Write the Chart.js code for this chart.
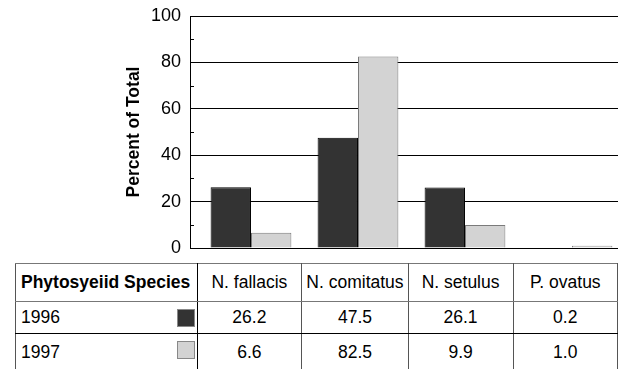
<!DOCTYPE html>
<html>
<head>
<meta charset="utf-8">
<script src="https://cdn.jsdelivr.net/npm/chart.js@4/dist/chart.umd.min.js"></script>
<style>
  html, body { margin: 0; padding: 0; background: #fff; }
  #wrap { position: relative; width: 618px; height: 369px; overflow: hidden; font-family: "Liberation Sans", Arial, sans-serif; }
  #chart { position: absolute; left: 0; top: 0; }
  table { position: absolute; left: 15px; top: 263px; border-collapse: collapse; table-layout: fixed; font-size: 17.5px; color: #000; }
  td { border: 1px solid #555; padding: 0; text-align: center; white-space: nowrap; }
  td.first { text-align: left; padding-left: 5px; position: relative; border-right-color: #000; }
  tr.head td { height: 37px; border-top-color: #777; border-bottom-color: #777; }
  tr.r1 td { height: 31px; border-bottom-color: #000; }
  tr.r2 td { height: 36px; }
  .key { position: absolute; right: 2px; top: 7px; width: 16px; height: 16px; border: 1px solid #888; }
</style>
</head>
<body>
<div id="wrap">
  <canvas id="chart" width="618" height="262"></canvas>
  <table id="tbl"></table>
</div>
<script>
(function() {

    var species = ['N. fallacis', 'N. comitatus', 'N. setulus', 'P. ovatus'];
    var years = ['1996', '1997'];
    var values1996 = [26.2, 47.5, 26.1, 0.2];
    var values1997 = [6.6, 82.5, 9.9, 1.0];
    var yTicks = [0, 20, 40, 60, 80, 100];
    var colors = ['#333333', '#d3d3d3'];

    // data table under the plot
    var tbl = document.getElementById('tbl');
    var html = '<colgroup><col style="width:182px">';
    species.forEach(function() { html += '<col style="width:107px">'; });
    html += '</colgroup><tr class="head"><td class="first"><b>Phytosyeiid Species</b></td>';
    species.forEach(function(s) { html += '<td>' + s + '</td>'; });
    html += '</tr>';
    [values1996, values1997].forEach(function(vals, r) {
        html += '<tr class="r' + (r + 1) + '"><td class="first">' + years[r] +
            '<span class="key" style="background:' + colors[r] + '"></span></td>';
        vals.forEach(function(v) { html += '<td>' + v.toFixed(1) + '</td>'; });
        html += '</tr>';
    });
    tbl.innerHTML = html;

    var minorTicks = {
        id: 'minorTicks',
        afterDatasetsDraw: function(chart) {
            var y = chart.scales.y, ctx = chart.ctx, left = chart.chartArea.left;
            ctx.save();
            ctx.strokeStyle = '#000';
            ctx.lineWidth = 1;
            for (var v = 10; v < 100; v += 20) {
                var py = Math.round(y.getPixelForValue(v)) + 0.5;
                ctx.beginPath();
                ctx.moveTo(left, py);
                ctx.lineTo(left + 4, py);
                ctx.stroke();
            }
            ctx.restore();
        }
    };

    var ctx = document.getElementById('chart').getContext('2d');

    var chart = new Chart(ctx, {
        type: 'bar',
        data: {
            datasets: [{
                label: years[0],
                backgroundColor: colors[0],
                borderColor: '#000',
                borderWidth: 1,
                data: species.map(function(s, i) { return {x: i, y: values1996[i]}; })
            }, {
                label: years[1],
                backgroundColor: colors[1],
                borderColor: '#7a7a7a',
                borderWidth: 1,
                data: species.map(function(s, i) { return {x: i, y: values1997[i]}; })
            }]
        },
        options: {
            responsive: false,
            animation: false,
            layout: { padding: { top: 16, bottom: 14, left: 0, right: 0 } },
            plugins: { legend: { display: false }, tooltip: { enabled: false } },
            datasets: { bar: { categoryPercentage: 0.755, barPercentage: 1.0 } },
            scales: {
                x: {
                    type: 'linear',
                    display: false,
                    offset: false,
                    bounds: 'data',
                    min: -0.57,
                    max: 3.43,
                    afterBuildTicks: function(s) {
                        s.ticks = species.map(function(sp, i) { return {value: i}; });
                    }
                },
                y: {
                    min: 0,
                    max: 100,
                    afterBuildTicks: function(s) {
                        s.ticks = yTicks.map(function(v) { return {value: v}; });
                    },
                    afterFit: function(s) {
                        s.width = 190;
                        s.paddingTop = 0;
                        s.paddingBottom = 0;
                    },
                    grid: { color: '#000', lineWidth: 1, drawTicks: false },
                    border: { display: true, color: '#000', width: 1 },
                    ticks: {
                        color: '#000',
                        padding: 9,
                        font: { family: '"Liberation Sans", Arial, sans-serif', size: 18 }
                    },
                    title: {
                        display: true,
                        text: 'Percent of Total',
                        color: '#000',
                        padding: { top: 124, bottom: 0 },
                        font: { family: '"Liberation Sans", Arial, sans-serif', size: 17.5, weight: 'bold' }
                    }
                }
            }
        },
        plugins: [minorTicks]
    });
})();
</script>
</body>
</html>
